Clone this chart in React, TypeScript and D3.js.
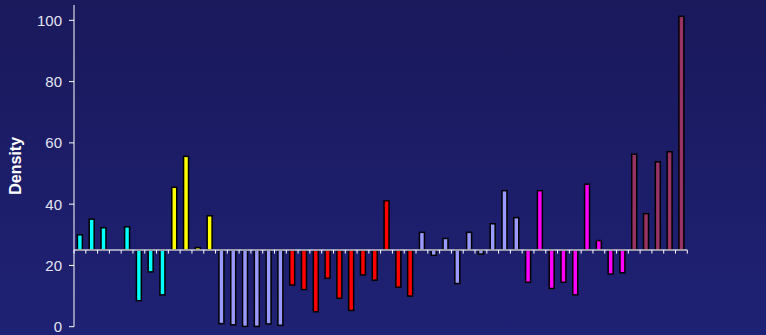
import React from "react";
import * as d3 from "d3";

// Density per sample, grouped by series; bars grow from the reference level.
const REFERENCE_LEVEL = 25;
const cyanValues = [30.0, 35.1, 32.3, 25.0, 32.6, 8.5, 17.9, 10.4];
const yellowValues = [45.5, 55.6, 25.8, 36.2];
const lavenderValuesA = [1.0, 0.6, 0.1, 0.1, 0.9, 0.45];
const redValues = [13.6, 12.1, 4.9, 15.8, 9.3, 5.3, 16.9, 15.2, 41.1, 12.9, 10.0];
const lavenderValuesB = [30.8, 23.3, 28.8, 14.1, 30.8, 23.7, 33.6, 44.4, 35.6];
const magentaValues = [14.5, 44.4, 12.5, 14.5, 10.4, 46.5, 28.1, 17.2, 17.6];
const maroonValues = [56.3, 36.9, 53.8, 57.1, 101.3];

const groups = [
  { values: cyanValues, color: "#00ffff" },
  { values: yellowValues, color: "#ffff00" },
  { values: lavenderValuesA, color: "#9999ff" },
  { values: redValues, color: "#ff0000" },
  { values: lavenderValuesB, color: "#9999ff" },
  { values: magentaValues, color: "#ff00ff" },
  { values: maroonValues, color: "#993366" },
];

const yTicks = [0, 20, 40, 60, 80, 100];
const yLabel = "Density";

const W = 766;
const H = 335;
const left = 74;
const right = 687.3;
const top = 5;
const bottom = 326.7;

export default function App() {
  const bars = groups.flatMap((g) => g.values.map((v) => ({ v, color: g.color })));
  const idx = bars.map((_, i) => i);

  const x = d3
    .scaleBand<number>()
    .domain(idx)
    .range([left, right])
    .paddingInner(0.58)
    .paddingOuter(0.29);
  const y = d3.scaleLinear().domain([0, 105]).range([bottom, top]);
  const step = x.step();
  const y0 = y(REFERENCE_LEVEL);
  const boundaries = d3.range(bars.length + 1).map((k) => left + k * step);

  return (
    <svg
      width={W}
      height={H}
      style={{ position: "absolute", left: 0, top: 0, display: "block" }}
      fontFamily="'Liberation Sans', Arial, sans-serif"
    >
      <defs>
        <linearGradient id="bg" x1="0" y1="0" x2="0" y2="1">
          <stop offset="0%" stopColor="#1a195c" />
          <stop offset="100%" stopColor="#1f2174" />
        </linearGradient>
      </defs>
      <rect x={0} y={0} width={W} height={H} fill="url(#bg)" />

      {/* bars */}
      {bars.map((b, i) => {
        const yv = y(b.v);
        const yTop = Math.min(yv, y0);
        const h = Math.abs(yv - y0);
        if (h < 0.01) return null;
        return (
          <rect
            key={i}
            x={x(i)}
            y={yTop}
            width={x.bandwidth()}
            height={h}
            fill={b.color}
            stroke="#000"
            strokeWidth={1.5}
          />
        );
      })}

      {/* reference-level axis */}
      <line x1={left} x2={right} y1={y0} y2={y0} stroke="#c8c8d8" strokeWidth={1.5} />
      {boundaries.map((bx, k) => (
        <line key={k} x1={bx} x2={bx} y1={y0} y2={y0 + 3.5} stroke="#ffffff" strokeWidth={1} />
      ))}

      {/* y axis */}
      <line x1={left} x2={left} y1={top} y2={bottom} stroke="#ffffff" strokeWidth={1} />
      {yTicks.map((t) => (
        <g key={t}>
          <line x1={left - 5} x2={left} y1={y(t)} y2={y(t)} stroke="#ffffff" strokeWidth={1} />
          <text
            x={left - 12}
            y={y(t)}
            dy="0.36em"
            textAnchor="end"
            fontSize={15}
            fill="#e4e4f4"
          >
            {t}
          </text>
        </g>
      ))}
      <text
        transform={`translate(21,${(top + bottom) / 2}) rotate(-90)`}
        textAnchor="middle"
        fontSize={16}
        fontWeight="bold"
        fill="#ffffff"
      >
        {yLabel}
      </text>
    </svg>
  );
}
